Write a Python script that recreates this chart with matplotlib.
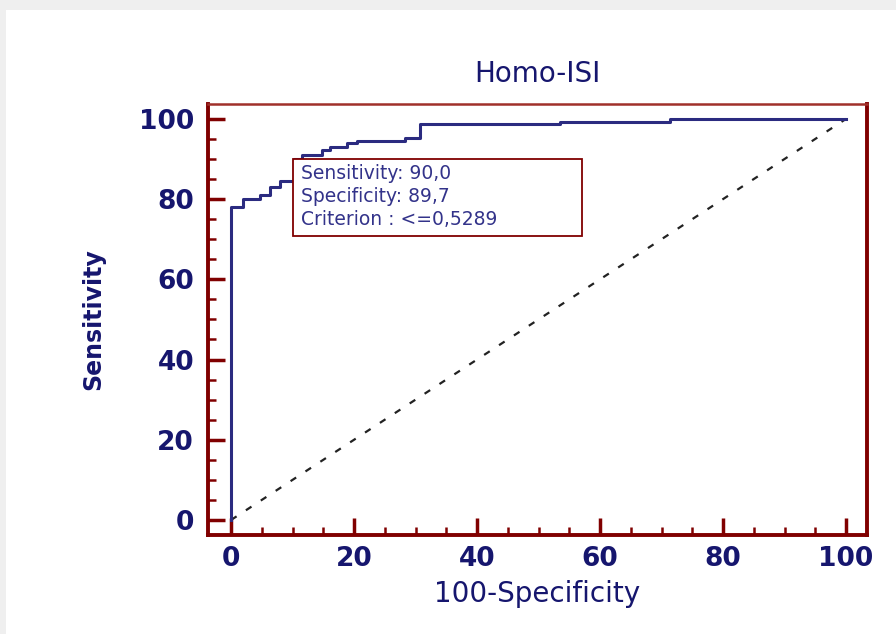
import numpy as np
import matplotlib.pyplot as plt
from matplotlib.patches import Rectangle
from matplotlib.ticker import MultipleLocator

# punkty krzywej ROC (100-specyficznosc, czulosc)
fpr = [0, 0, 2.0, 4.7, 6.3, 8.0, 10.3, 11.5, 14.8, 16.1, 18.9, 20.5, 28.3, 30.7, 53.5, 71.4, 100]
tpr = [0, 78.0, 80.0, 81.0, 83.0, 84.5, 90.0, 91.0, 92.3, 93.0, 94.0, 94.4, 95.3, 98.7, 99.3, 100, 100]
diag = [0, 100]
ticks = [0, 20, 40, 60, 80, 100]

op_fpr = 10.3
op_sens = 90.0
info = ["Sensitivity: 90,0", "Specificity: 89,7", "Criterion : <=0,5289"]

navy = '#16166e'
maroon = '#800000'

fig = plt.figure(figsize=(8.96, 6.34), dpi=100, facecolor='#efefef')
fig.patches.append(Rectangle((6/896, 0), 1, 1 - 10/634, transform=fig.transFigure,
                             facecolor='white', edgecolor='none', zorder=-5))

ax = fig.add_axes([208/896, 1 - 535/634, 659/896, 431/634])
ax.set_zorder(2)
ax.set_facecolor('white')

ax.plot(diag, diag, color='#222222', lw=1.6, dashes=(3, 5))
ax.plot(fpr, tpr, color='#2b2b80', lw=2.2, drawstyle='steps-post', zorder=3)

# ramka z informacja
ax.add_patch(Rectangle((op_fpr - 0.3, op_sens - 19.2), 47, 19.2, facecolor='white',
                       edgecolor=maroon, lw=1.3, zorder=4))
for i, s in enumerate(info):
    ax.text(op_fpr + 1.0, op_sens - 3.6 - i * 5.7, s, color='#33338a', fontsize=13.5,
            va='center', ha='left', zorder=5)

ax.set_xlim(-3.74, 103.4)
ax.set_ylim(-3.74, 103.7)
ax.set_xticks(ticks)
ax.set_yticks(ticks)
ax.xaxis.set_minor_locator(MultipleLocator(5))
ax.yaxis.set_minor_locator(MultipleLocator(5))
ax.tick_params(which='major', direction='in', length=12, width=2.5, color=maroon,
               labelcolor=navy, labelsize=19, pad=8)
ax.tick_params(which='minor', direction='in', length=6, width=1.8, color=maroon)
ax.tick_params(axis='y', pad=10)
for lab in ax.get_xticklabels() + ax.get_yticklabels():
    lab.set_fontweight('bold')

for sp in ['left', 'bottom', 'right']:
    ax.spines[sp].set_color(maroon)
    ax.spines[sp].set_linewidth(2.8)
ax.spines['top'].set_color('#a0302a')
ax.spines['top'].set_linewidth(1.8)

ax.set_title("Homo-ISI", color=navy, fontsize=20, pad=16)
ax.set_xlabel("100-Specificity", color=navy, fontsize=20, labelpad=6)
ax.set_ylabel("Sensitivity", color=navy, fontsize=17, labelpad=24, fontweight='bold')

plt.savefig('out.png', dpi=100, facecolor=fig.get_facecolor())
